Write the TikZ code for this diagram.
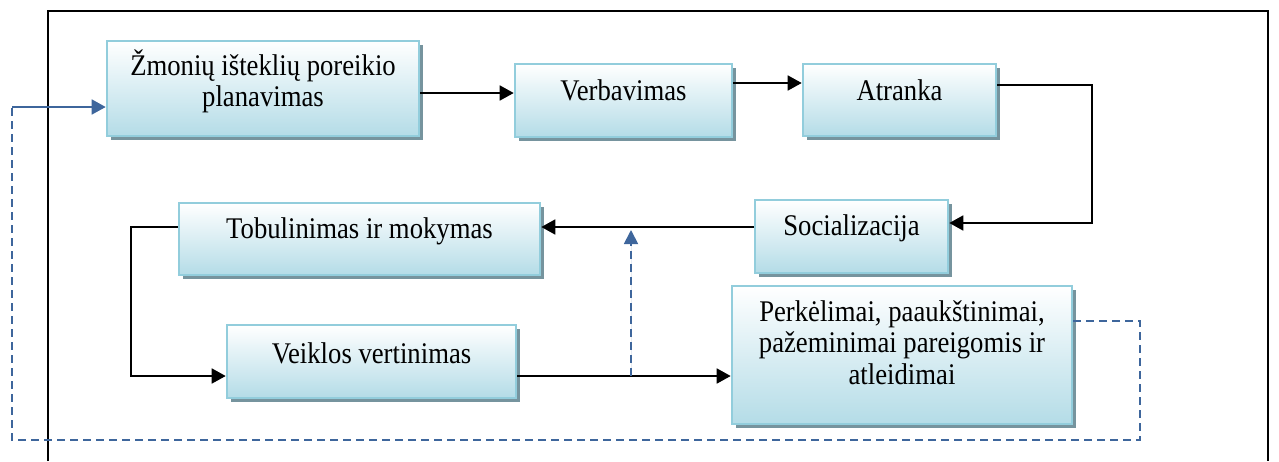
\documentclass[tikz,border=0pt]{standalone}
\usepackage{fontspec}
\setmainfont{Liberation Serif}[FakeStretch=0.89]
\usetikzlibrary{arrows.meta,shadows}
\definecolor{boxedge}{RGB}{146,205,220}
\definecolor{boxlow}{RGB}{180,220,231}
\definecolor{boxshadow}{RGB}{118,148,158}
\definecolor{loopblue}{RGB}{62,102,156}
\newcommand{\firstline}{\rule{0pt}{28pt}}
\begin{document}
\begin{tikzpicture}[x=1pt,y=-1pt,
  stagebox/.style={draw=boxedge, line width=2.6pt, top color=white, bottom color=boxlow,
    drop shadow={shadow xshift=4pt, shadow yshift=-4pt, fill=boxshadow, opacity=1},
    inner sep=0pt},
  stagetext/.style={anchor=north, inner sep=0pt, align=center,
    font=\fontsize{30}{31.5}\selectfont},
  flow/.style={line width=1.8pt, -{Triangle[length=14pt,width=15pt]}},
  loop/.style={draw=loopblue, line width=1.8pt, dash pattern=on 8pt off 5pt},
  looparrow/.style={loop, -{Triangle[length=14pt,width=14pt]}, fill=loopblue},
  solidarrow/.style={draw=loopblue, fill=loopblue, line width=1.8pt, -{Triangle[length=14pt,width=15pt]}}]
\useasboundingbox (0,0) rectangle (1279,461);

% outer frame (open at the bottom)
\draw[line width=1.8pt] (48,461) -- (48,11) -- (1268,11) -- (1268,461);

% stages
\node[stagebox, minimum width=312pt, minimum height=95pt] (plan) at (263,88.5) {};
\node[stagebox, minimum width=217pt, minimum height=73pt] (verb) at (623.5,100.5) {};
\node[stagebox, minimum width=193pt, minimum height=72pt] (atr)  at (899.5,100) {};
\node[stagebox, minimum width=193pt, minimum height=73pt] (soc)  at (851.5,236.5) {};
\node[stagebox, minimum width=361pt, minimum height=72pt] (tob)  at (359.5,239) {};
\node[stagebox, minimum width=289pt, minimum height=73pt] (veik) at (371.5,361.5) {};
\node[stagebox, minimum width=340pt, minimum height=138pt] (perk) at (902,355) {};

% stage labels
\node[stagetext] (plant) at (263,47) {\firstline Žmonių išteklių poreikio\\planavimas};
\node[stagetext] (verbt) at (623.5,72) {\firstline Verbavimas};
\node[stagetext] (atrt)  at (899.5,72) {\firstline Atranka};
\node[stagetext] (soct)  at (851.5,207) {\firstline Socializacija};
\node[stagetext] (tobt)  at (359.5,210) {\firstline Tobulinimas ir mokymas};
\node[stagetext] (veikt) at (371.5,335) {\firstline Veiklos vertinimas};
\node[stagetext] (perkt) at (902,293) {\firstline Perkėlimai, paaukštinimai,\\pažeminimai pareigomis ir\\atleidimai};

% routing levels
\coordinate (y93)  at (0,93);
\coordinate (y83)  at (0,83);
\coordinate (y85)  at (0,85);
\coordinate (y223) at (0,223);
\coordinate (y227) at (0,227);
\coordinate (y376) at (0,376);
\coordinate (y321) at (0,321);
\coordinate (rightturn) at (1092,223);
\coordinate (leftturn)  at (131,376);
\coordinate (tap)       at (631,376);
\coordinate (tip)       at (631,230);
\coordinate (loopcorner) at (1140,440);
\coordinate (loopleft)   at (12,107);

% main flow
\draw[flow] (plan.east |- y93) -- (verb.west |- y93);
\draw[flow] (verb.east |- y83) -- (atr.west |- y83);
\draw[flow] (atr.east |- y85) -| (rightturn) -- (soc.east |- y223);
\draw[flow] (soc.west |- y227) -- (tob.east |- y227);
\draw[flow] (tob.west |- y227) -| (leftturn) -- (veik.west |- y376);
\draw[flow] (veik.east |- y376) -- (perk.west |- y376);

% feedback
\draw[looparrow] (tap) -- (tip);
\draw[loop] (perk.east |- y321) -| (loopcorner) -| (loopleft);
\draw[solidarrow] (loopleft) -- (plan.west |- loopleft);
\end{tikzpicture}
\end{document}
